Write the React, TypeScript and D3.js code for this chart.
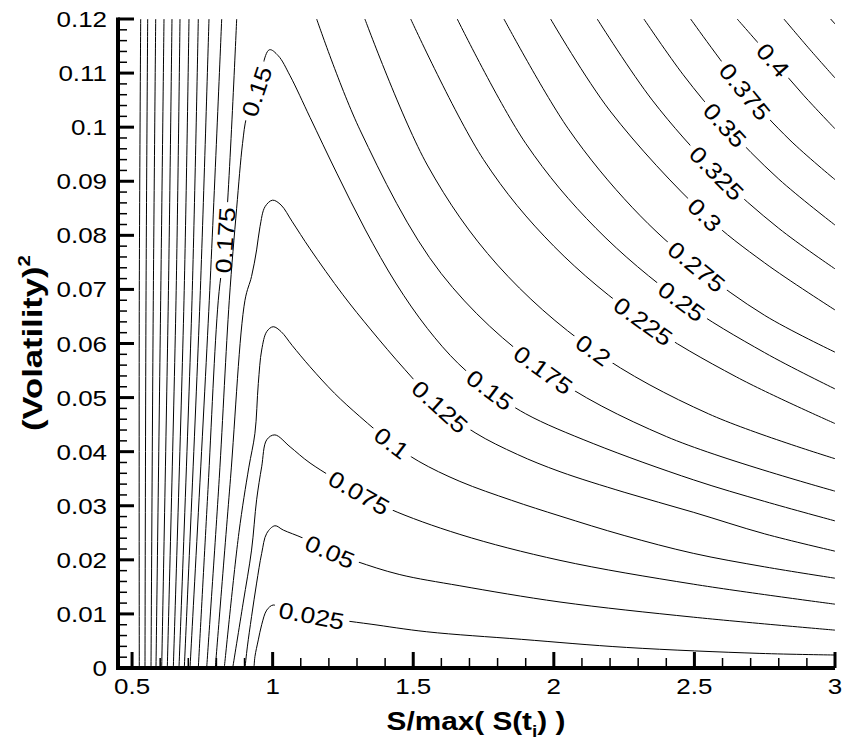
import React from 'react';
import * as d3 from 'd3';

type Pt = [number, number];

// axis ticks
const xTicks = [0.5, 1, 1.5, 2, 2.5, 3];
const xTickLabels = ['0.5', '1', '1.5', '2', '2.5', '3'];
const yTicks = [0, 0.01, 0.02, 0.03, 0.04, 0.05, 0.06, 0.07, 0.08, 0.09, 0.1, 0.11, 0.12];
const yTickLabels = ['0', '0.01', '0.02', '0.03', '0.04', '0.05', '0.06', '0.07', '0.08', '0.09', '0.1', '0.11', '0.12'];

// contour lines: [S/max S(t_i), volatility^2]
const c025: Pt[] = [[0.9336, 0], [0.937, 0.0021], [0.949, 0.0052], [0.961, 0.008], [0.979, 0.0107], [1.002, 0.01165], [1.032, 0.011], [1.1387, 0.0097], [1.25, 0.0088], [1.35, 0.0081], [1.548, 0.0067], [1.885, 0.0053], [2.259, 0.0038], [2.733, 0.0027], [3.0, 0.0024]];
const c050: Pt[] = [[0.9016, 0], [0.91, 0.0039], [0.925, 0.0095], [0.943, 0.0157], [0.961, 0.0212], [0.979, 0.0249], [1.008, 0.0263], [1.038, 0.0255], [1.109, 0.024], [1.2038, 0.0215], [1.299, 0.0197], [1.45, 0.0173], [1.666, 0.0152], [2.022, 0.0122], [2.496, 0.0094], [3.0, 0.007]];
const c075: Pt[] = [[0.8579, 0], [0.895, 0.012], [0.925, 0.0218], [0.943, 0.0311], [0.961, 0.0372], [0.979, 0.0422], [1.008, 0.0431], [1.062, 0.0409], [1.133, 0.0379], [1.3069, 0.0324], [1.417, 0.0294], [1.666, 0.0247], [2.022, 0.0199], [2.496, 0.0155], [3.0, 0.0118]];
const c100: Pt[] = [[0.828, 0], [0.88, 0.025], [0.915, 0.037], [0.937, 0.0434], [0.949, 0.0526], [0.961, 0.0588], [0.979, 0.0622], [1.002, 0.0631], [1.03, 0.0622], [1.07, 0.0596], [1.133, 0.0557], [1.22, 0.0508], [1.31, 0.0465], [1.4232, 0.0416], [1.52, 0.0382], [1.666, 0.0345], [1.85, 0.031], [2.022, 0.0281], [2.25, 0.0245], [2.496, 0.0212], [2.75, 0.0187], [3.0, 0.0166]];
const c125: Pt[] = [[0.796, 0], [0.85, 0.035], [0.9016, 0.068], [0.925, 0.0724], [0.943, 0.0773], [0.955, 0.0816], [0.973, 0.0853], [1.0, 0.0865], [1.03, 0.0856], [1.07, 0.0825], [1.133, 0.0775], [1.25, 0.069], [1.35, 0.0625], [1.47, 0.0552], [1.595, 0.0483], [1.72, 0.0435], [1.87, 0.0395], [2.022, 0.0363], [2.25, 0.0325], [2.496, 0.0288], [2.75, 0.0248], [3.0, 0.0216]];
const c150: Pt[] = [[0.7654, 0], [0.81, 0.035], [0.8458, 0.068], [0.872, 0.085], [0.893, 0.097], [0.9076, 0.1019], [0.9432, 0.1066], [0.988, 0.1143], [1.02, 0.1132], [1.062, 0.1095], [1.133, 0.1018], [1.228, 0.0915], [1.33, 0.081], [1.44, 0.071], [1.55, 0.0628], [1.66, 0.0563], [1.7728, 0.0514], [1.9, 0.047], [2.14, 0.0415], [2.496, 0.0348], [2.75, 0.0308], [3.0, 0.0272]];
const c175L: Pt[] = [[0.7356, 0], [0.77, 0.033], [0.8067, 0.068], [0.8307, 0.0791], [0.8721, 0.12]];
const c175R: Pt[] = [[1.1565, 0.12], [1.3105, 0.0995], [1.6, 0.0729], [1.9623, 0.0551], [2.4, 0.0428], [3.0, 0.0327]];
const c200L: Pt[] = [[0.7061, 0], [0.7747, 0.068], [0.8188, 0.12]];
const c200R: Pt[] = [[1.328, 0.12], [1.55, 0.093], [1.8, 0.0745], [2.14, 0.0588], [2.55, 0.047], [3.0, 0.0387]];
const c225L: Pt[] = [[0.6858, 0], [0.7416, 0.068], [0.7736, 0.12]];
const c225R: Pt[] = [[1.491, 0.12], [1.75, 0.094], [2.0, 0.078], [2.318, 0.0641], [2.65, 0.0538], [3.0, 0.0452]];
const c250L: Pt[] = [[0.6669, 0], [0.7132, 0.068], [0.7356, 0.12]];
const c250R: Pt[] = [[1.6565, 0.12], [1.9, 0.097], [2.15, 0.0813], [2.4545, 0.0678], [2.75, 0.0583], [3.0, 0.0516]];
const c275L: Pt[] = [[0.6467, 0], [0.6847, 0.068], [0.7025, 0.12]];
const c275R: Pt[] = [[1.8226, 0.12], [2.05, 0.0998], [2.28, 0.0851], [2.5078, 0.0742], [2.75, 0.0652], [3.0, 0.0584]];
const c300L: Pt[] = [[0.6253, 0], [0.6563, 0.068], [0.6705, 0.12]];
const c300R: Pt[] = [[1.9886, 0.12], [2.2, 0.103], [2.5368, 0.0838], [2.75, 0.0749], [3.0, 0.0662]];
const c325L: Pt[] = [[0.6054, 0], [0.6289, 0.068], [0.642, 0.12]];
const c325R: Pt[] = [[2.1543, 0.12], [2.35, 0.105], [2.579, 0.0915], [2.8, 0.0813], [3.0, 0.0738]];
const c350L: Pt[] = [[0.5851, 0], [0.6018, 0.068], [0.6136, 0.12]];
const c350R: Pt[] = [[2.3204, 0.12], [2.46, 0.1097], [2.6085, 0.1004], [2.8, 0.0904], [3.0, 0.0819]];
const c375L: Pt[] = [[0.5674, 0], [0.5755, 0.068], [0.5841, 0.12]];
const c375R: Pt[] = [[2.4865, 0.12], [2.6796, 0.1066], [2.84, 0.0976], [3.0, 0.0903]];
const c400L: Pt[] = [[0.546, 0], [0.5496, 0.068], [0.5556, 0.12]];
const c400R: Pt[] = [[2.6522, 0.12], [2.78, 0.1124], [2.89, 0.1058], [3.0, 0.0997]];
const c425L: Pt[] = [[0.5257, 0], [0.5257, 0.068], [0.5307, 0.12]];
const c425R: Pt[] = [[2.8183, 0.12], [2.91, 0.1144], [3.0, 0.1091]];
const c450R: Pt[] = [[2.9844, 0.12], [3.0, 0.1191]];

const contours: { level: number; pts: Pt[]; labels: Pt[] }[] = [
  { level: 0.025, pts: c025, labels: [[1.1387, 0.0097]] },
  { level: 0.05, pts: c050, labels: [[1.2038, 0.0215]] },
  { level: 0.075, pts: c075, labels: [[1.3069, 0.0324]] },
  { level: 0.1, pts: c100, labels: [[1.4232, 0.0416]] },
  { level: 0.125, pts: c125, labels: [[1.595, 0.0483]] },
  { level: 0.15, pts: c150, labels: [[0.9432, 0.1066], [1.7728, 0.0514]] },
  { level: 0.175, pts: c175L, labels: [[0.8307, 0.0791]] },
  { level: 0.175, pts: c175R, labels: [[1.9623, 0.0551]] },
  { level: 0.2, pts: c200L, labels: [] },
  { level: 0.2, pts: c200R, labels: [[2.14, 0.0588]] },
  { level: 0.225, pts: c225L, labels: [] },
  { level: 0.225, pts: c225R, labels: [[2.318, 0.0641]] },
  { level: 0.25, pts: c250L, labels: [] },
  { level: 0.25, pts: c250R, labels: [[2.4545, 0.0678]] },
  { level: 0.275, pts: c275L, labels: [] },
  { level: 0.275, pts: c275R, labels: [[2.5078, 0.0742]] },
  { level: 0.3, pts: c300L, labels: [] },
  { level: 0.3, pts: c300R, labels: [[2.5368, 0.0838]] },
  { level: 0.325, pts: c325L, labels: [] },
  { level: 0.325, pts: c325R, labels: [[2.579, 0.0915]] },
  { level: 0.35, pts: c350L, labels: [] },
  { level: 0.35, pts: c350R, labels: [[2.6085, 0.1004]] },
  { level: 0.375, pts: c375L, labels: [] },
  { level: 0.375, pts: c375R, labels: [[2.6796, 0.1066]] },
  { level: 0.4, pts: c400L, labels: [] },
  { level: 0.4, pts: c400R, labels: [[2.78, 0.1124]] },
  { level: 0.425, pts: c425L, labels: [] },
  { level: 0.425, pts: c425R, labels: [] },
  { level: 0.45, pts: c450R, labels: [] },
];

const font = '"Liberation Sans", Arial, Helvetica, sans-serif';
const textW = (s: string, fs: number) =>
  s.split('').reduce((a, c) => a + (c === '.' ? 0.278 : 0.556), 0) * fs;

export default function App() {
  const W = 845;
  const H = 744;
  const x = d3.scaleLinear().domain([0.45, 3]).range([118, 835]);
  const y = d3.scaleLinear().domain([0, 0.12]).range([668, 19]);
  const line = d3
    .line<Pt>()
    .x((d) => x(d[0]))
    .y((d) => y(d[1]))
    .curve(d3.curveCatmullRom.alpha(0.5));

  const labelFs = 23;
  const stretch = 1.15;

  const items = contours.map((c, i) => {
    const labels = c.labels.map(([lx, lv]) => {
      let k = 0;
      let best = Infinity;
      c.pts.forEach((p, j) => {
        const d = (x(p[0]) - x(lx)) ** 2 + (y(p[1]) - y(lv)) ** 2;
        if (d < best) {
          best = d;
          k = j;
        }
      });
      const a = c.pts[Math.max(0, k - 1)];
      const b = c.pts[Math.min(c.pts.length - 1, k + 1)];
      let ang = (Math.atan2(y(b[1]) - y(a[1]), x(b[0]) - x(a[0])) * 180) / Math.PI;
      if (ang > 90) ang -= 180;
      if (ang <= -90) ang += 180;
      const txt = String(c.level);
      return { cx: x(lx), cy: y(lv), ang, txt, w: textW(txt, labelFs) * stretch };
    });
    return { id: `gap${i}`, d: line(c.pts) || '', labels };
  });

  const xMinor = d3.range(5, 31).map((i) => i / 10).filter((t) => !xTicks.includes(t));
  const yMinor = d3.range(0, 61).map((i) => i / 500).filter((t) => Math.abs(Math.round(t * 100) - t * 100) > 1e-6);

  return (
    <svg width={W} height={H} style={{ position: 'absolute', left: 0, top: 0, background: '#fff' }} fontFamily={font}>
      <defs>
        <clipPath id="plot">
          <rect x={x(0.45)} y={y(0.12)} width={x(3) - x(0.45)} height={y(0) - y(0.12)} />
        </clipPath>
        {items.map((it) => (
          <mask id={it.id} key={it.id} maskUnits="userSpaceOnUse" x={0} y={0} width={W} height={H}>
            <rect x={0} y={0} width={W} height={H} fill="white" />
            {it.labels.map((l, j) => (
              <rect
                key={j}
                x={-l.w / 2 - 5}
                y={-10}
                width={l.w + 10}
                height={20}
                fill="black"
                transform={`translate(${l.cx},${l.cy}) rotate(${l.ang})`}
              />
            ))}
          </mask>
        ))}
      </defs>

      <g clipPath="url(#plot)">
        {items.map((it) => (
          <path key={it.id} d={it.d} fill="none" stroke="#000" strokeWidth={1} mask={`url(#${it.id})`} />
        ))}
      </g>

      {items.map((it) =>
        it.labels.map((l, j) => (
          <text
            key={`${it.id}-${j}`}
            transform={`translate(${l.cx},${l.cy}) rotate(${l.ang}) scale(${stretch},1)`}
            textAnchor="middle"
            dy="0.36em"
            fontSize={labelFs}
            fill="#000"
          >
            {l.txt}
          </text>
        ))
      )}

      {/* ticks */}
      {xMinor.map((t) => (
        <line key={`xm${t}`} x1={x(t)} x2={x(t)} y1={y(0)} y2={y(0) - 10} stroke="#000" strokeWidth={1.5} />
      ))}
      {xTicks.map((t) => (
        <line key={`xM${t}`} x1={x(t)} x2={x(t)} y1={y(0)} y2={y(0) - 16} stroke="#000" strokeWidth={3} />
      ))}
      {yMinor.map((t) => (
        <line key={`ym${t}`} x1={x(0.45)} x2={x(0.45) + 9} y1={y(t)} y2={y(t)} stroke="#000" strokeWidth={1.5} />
      ))}
      {yTicks.map((t) => (
        <line key={`yM${t}`} x1={x(0.45)} x2={x(0.45) + 16} y1={y(t)} y2={y(t)} stroke="#000" strokeWidth={3} />
      ))}

      {/* axis lines */}
      <line x1={x(0.45) - 2} x2={x(3)} y1={y(0)} y2={y(0)} stroke="#000" strokeWidth={4} />
      <line x1={x(0.45)} x2={x(0.45)} y1={y(0.12) - 1.5} y2={y(0) + 2} stroke="#000" strokeWidth={4} />

      {/* tick labels */}
      {xTicks.map((t, i) => (
        <text key={`xl${t}`} transform={`translate(${x(t)},${694}) scale(1.18,1)`} textAnchor="middle" fontSize={22}>
          {xTickLabels[i]}
        </text>
      ))}
      {yTicks.map((t, i) => (
        <text key={`yl${t}`} transform={`translate(${107},${y(t) + 8}) scale(1.18,1)`} textAnchor="end" fontSize={22}>
          {yTickLabels[i]}
        </text>
      ))}

      {/* axis titles */}
      <text transform={`translate(476,730) scale(1.19,1)`} textAnchor="middle" fontSize={25} fontWeight="bold">
        S/max( S(t<tspan fontSize={16} dy={7}>i</tspan>
        <tspan dy={-7}>) )</tspan>
      </text>
      <text transform={`translate(42,343) rotate(-90) scale(1.28,1)`} textAnchor="middle" fontSize={27} fontWeight="bold">
        (Volatility)<tspan fontSize={16} dy={-12}>2</tspan>
      </text>
    </svg>
  );
}
